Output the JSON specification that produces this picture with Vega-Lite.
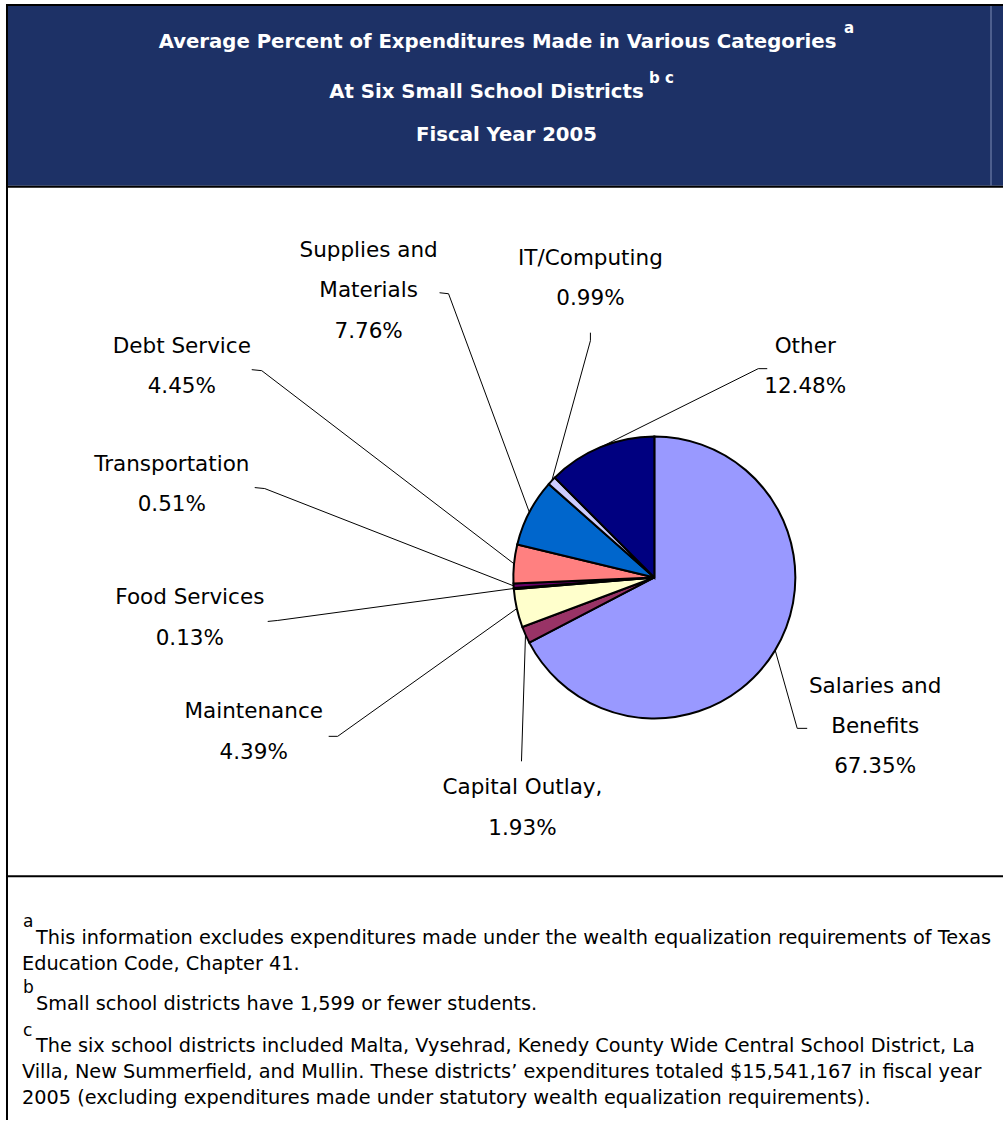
{
  "$schema": "https://vega.github.io/schema/vega-lite/v6.json",
  "width": 1004,
  "height": 1121,
  "autosize": {"type": "fit", "contains": "padding"},
  "padding": 0,
  "background": "white",
  "config": {"view": {"stroke": null}, "axis": {"disable": true}, "font": "DejaVu Sans"},
  "data": {"values": [{}]},
  "datasets": {
    "slices": [
      {"category": "Salaries and Benefits", "value": 67.35, "order": 1},
      {"category": "Capital Outlay", "value": 1.93, "order": 2},
      {"category": "Maintenance", "value": 4.39, "order": 3},
      {"category": "Food Services", "value": 0.13, "order": 4},
      {"category": "Transportation", "value": 0.51, "order": 5},
      {"category": "Debt Service", "value": 4.45, "order": 6},
      {"category": "Supplies and Materials", "value": 7.76, "order": 7},
      {"category": "IT/Computing", "value": 0.99, "order": 8},
      {"category": "Other", "value": 12.48, "order": 9}
    ]
  },
  "layer": [
    {"mark": {"type": "rect", "color": "#1D3166"},
     "encoding": {
       "x": {"datum": 8, "type": "quantitative", "scale": {"domain": [0, 1004], "nice": false, "zero": false}, "axis": null},
       "x2": {"datum": 1004},
       "y": {"datum": 6, "type": "quantitative", "scale": {"domain": [0, 1121], "nice": false, "zero": false, "reverse": true}, "axis": null},
       "y2": {"datum": 186}}},
    {"mark": {"type": "rule", "color": "#7F8DB5", "strokeWidth": 1},
     "encoding": {"x": {"datum": 992}, "y": {"datum": 6}, "y2": {"datum": 186}}},
    {"mark": {"type": "rule", "color": "black", "strokeWidth": 2},
     "encoding": {"x": {"datum": 6}, "x2": {"datum": 1004}, "y": {"datum": 5}}},
    {"mark": {"type": "rule", "color": "black", "strokeWidth": 2},
     "encoding": {"x": {"datum": 7}, "y": {"datum": 4}, "y2": {"datum": 1121}}},
    {"mark": {"type": "rule", "color": "black", "strokeWidth": 2},
     "encoding": {"x": {"datum": 6}, "x2": {"datum": 1004}, "y": {"datum": 187}}},
    {"mark": {"type": "rule", "color": "black", "strokeWidth": 2},
     "encoding": {"x": {"datum": 6}, "x2": {"datum": 1004}, "y": {"datum": 877}}},

    {"mark": {"type": "text", "text": "Average Percent of Expenditures Made in Various Categories", "align": "center", "baseline": "alphabetic", "fontSize": 19.7, "fontWeight": "bold", "color": "white"},
     "encoding": {"x": {"datum": 498}, "y": {"datum": 48}}},
    {"mark": {"type": "text", "text": "a", "align": "center", "baseline": "alphabetic", "fontSize": 15, "fontWeight": "bold", "color": "white"},
     "encoding": {"x": {"datum": 850}, "y": {"datum": 33}}},
    {"mark": {"type": "text", "text": "At Six Small School Districts", "align": "center", "baseline": "alphabetic", "fontSize": 19.7, "fontWeight": "bold", "color": "white"},
     "encoding": {"x": {"datum": 487}, "y": {"datum": 98}}},
    {"mark": {"type": "text", "text": "b c", "align": "center", "baseline": "alphabetic", "fontSize": 15, "fontWeight": "bold", "color": "white"},
     "encoding": {"x": {"datum": 662}, "y": {"datum": 83}}},
    {"mark": {"type": "text", "text": "Fiscal Year 2005", "align": "center", "baseline": "alphabetic", "fontSize": 19.7, "fontWeight": "bold", "color": "white"},
     "encoding": {"x": {"datum": 507}, "y": {"datum": 141}}},

    {"data": {"name": "slices"},
     "mark": {"type": "arc", "radius": 141, "stroke": "black", "strokeWidth": 2},
     "encoding": {
       "theta": {"field": "value", "type": "quantitative", "stack": true},
       "order": {"field": "order", "type": "quantitative"},
       "color": {"field": "category", "type": "nominal", "legend": null,
         "scale": {"domain": ["Salaries and Benefits", "Capital Outlay", "Maintenance", "Food Services", "Transportation", "Debt Service", "Supplies and Materials", "IT/Computing", "Other"],
                   "range": ["#9999FF", "#993366", "#FFFFCC", "#CCFFFF", "#660066", "#FF8080", "#0066CC", "#CCCCFF", "#000080"]}},
       "x": {"datum": 655},
       "y": {"datum": 578}}},

    {"mark": {"type": "rule", "color": "black", "strokeWidth": 1}, "encoding": {"x": {"datum": 808}, "y": {"datum": 729}, "x2": {"datum": 798}, "y2": {"datum": 729}}},
    {"mark": {"type": "rule", "color": "black", "strokeWidth": 1}, "encoding": {"x": {"datum": 798}, "y": {"datum": 729}, "x2": {"datum": 776}, "y2": {"datum": 651}}},
    {"mark": {"type": "rule", "color": "black", "strokeWidth": 1}, "encoding": {"x": {"datum": 522}, "y": {"datum": 762}, "x2": {"datum": 526}, "y2": {"datum": 636}}},
    {"mark": {"type": "rule", "color": "black", "strokeWidth": 1}, "encoding": {"x": {"datum": 329}, "y": {"datum": 737}, "x2": {"datum": 338}, "y2": {"datum": 737}}},
    {"mark": {"type": "rule", "color": "black", "strokeWidth": 1}, "encoding": {"x": {"datum": 338}, "y": {"datum": 737}, "x2": {"datum": 517.5}, "y2": {"datum": 609}}},
    {"mark": {"type": "rule", "color": "black", "strokeWidth": 1}, "encoding": {"x": {"datum": 268}, "y": {"datum": 622}, "x2": {"datum": 278}, "y2": {"datum": 621}}},
    {"mark": {"type": "rule", "color": "black", "strokeWidth": 1}, "encoding": {"x": {"datum": 278}, "y": {"datum": 621}, "x2": {"datum": 514.4}, "y2": {"datum": 589}}},
    {"mark": {"type": "rule", "color": "black", "strokeWidth": 1}, "encoding": {"x": {"datum": 255}, "y": {"datum": 488}, "x2": {"datum": 265}, "y2": {"datum": 489}}},
    {"mark": {"type": "rule", "color": "black", "strokeWidth": 1}, "encoding": {"x": {"datum": 265}, "y": {"datum": 489}, "x2": {"datum": 514.2}, "y2": {"datum": 586.4}}},
    {"mark": {"type": "rule", "color": "black", "strokeWidth": 1}, "encoding": {"x": {"datum": 252}, "y": {"datum": 370}, "x2": {"datum": 262}, "y2": {"datum": 371}}},
    {"mark": {"type": "rule", "color": "black", "strokeWidth": 1}, "encoding": {"x": {"datum": 262}, "y": {"datum": 371}, "x2": {"datum": 514.7}, "y2": {"datum": 564.4}}},
    {"mark": {"type": "rule", "color": "black", "strokeWidth": 1}, "encoding": {"x": {"datum": 440}, "y": {"datum": 293}, "x2": {"datum": 449}, "y2": {"datum": 294}}},
    {"mark": {"type": "rule", "color": "black", "strokeWidth": 1}, "encoding": {"x": {"datum": 449}, "y": {"datum": 294}, "x2": {"datum": 530}, "y2": {"datum": 513}}},
    {"mark": {"type": "rule", "color": "black", "strokeWidth": 1}, "encoding": {"x": {"datum": 591}, "y": {"datum": 333}, "x2": {"datum": 591}, "y2": {"datum": 341}}},
    {"mark": {"type": "rule", "color": "black", "strokeWidth": 1}, "encoding": {"x": {"datum": 591}, "y": {"datum": 341}, "x2": {"datum": 552.3}, "y2": {"datum": 481.4}}},
    {"mark": {"type": "rule", "color": "black", "strokeWidth": 1}, "encoding": {"x": {"datum": 768}, "y": {"datum": 369}, "x2": {"datum": 759}, "y2": {"datum": 369}}},
    {"mark": {"type": "rule", "color": "black", "strokeWidth": 1}, "encoding": {"x": {"datum": 759}, "y": {"datum": 369}, "x2": {"datum": 601}, "y2": {"datum": 447.7}}},

    {"mark": {"type": "text", "text": ["Supplies and", "Materials", "7.76%"], "align": "center", "baseline": "alphabetic", "fontSize": 21.5, "lineHeight": 40.5, "color": "black"},
     "encoding": {"x": {"datum": 369}, "y": {"datum": 257}}},
    {"mark": {"type": "text", "text": ["IT/Computing", "0.99%"], "align": "center", "baseline": "alphabetic", "fontSize": 21.5, "lineHeight": 40.5, "color": "black"},
     "encoding": {"x": {"datum": 591}, "y": {"datum": 265}}},
    {"mark": {"type": "text", "text": ["Debt Service", "4.45%"], "align": "center", "baseline": "alphabetic", "fontSize": 21.5, "lineHeight": 40.5, "color": "black"},
     "encoding": {"x": {"datum": 182}, "y": {"datum": 353}}},
    {"mark": {"type": "text", "text": ["Other", "12.48%"], "align": "center", "baseline": "alphabetic", "fontSize": 21.5, "lineHeight": 40.5, "color": "black"},
     "encoding": {"x": {"datum": 806}, "y": {"datum": 353}}},
    {"mark": {"type": "text", "text": ["Transportation", "0.51%"], "align": "center", "baseline": "alphabetic", "fontSize": 21.5, "lineHeight": 40.5, "color": "black"},
     "encoding": {"x": {"datum": 172}, "y": {"datum": 471}}},
    {"mark": {"type": "text", "text": ["Food Services", "0.13%"], "align": "center", "baseline": "alphabetic", "fontSize": 21.5, "lineHeight": 40.5, "color": "black"},
     "encoding": {"x": {"datum": 190}, "y": {"datum": 605}}},
    {"mark": {"type": "text", "text": ["Maintenance", "4.39%"], "align": "center", "baseline": "alphabetic", "fontSize": 21.5, "lineHeight": 40.5, "color": "black"},
     "encoding": {"x": {"datum": 254}, "y": {"datum": 719}}},
    {"mark": {"type": "text", "text": ["Capital Outlay,", "1.93%"], "align": "center", "baseline": "alphabetic", "fontSize": 21.5, "lineHeight": 40.5, "color": "black"},
     "encoding": {"x": {"datum": 523}, "y": {"datum": 795}}},
    {"mark": {"type": "text", "text": ["Salaries and", "Benefits", "67.35%"], "align": "center", "baseline": "alphabetic", "fontSize": 21.5, "lineHeight": 40, "color": "black"},
     "encoding": {"x": {"datum": 876}, "y": {"datum": 694}}},

    {"mark": {"type": "text", "text": "a", "align": "left", "baseline": "alphabetic", "fontSize": 17, "color": "black"},
     "encoding": {"x": {"datum": 23}, "y": {"datum": 928}}},
    {"mark": {"type": "text", "text": "This information excludes expenditures made under the wealth equalization requirements of Texas", "align": "left", "baseline": "alphabetic", "fontSize": 19.3, "color": "black"},
     "encoding": {"x": {"datum": 36}, "y": {"datum": 945}}},
    {"mark": {"type": "text", "text": "Education Code, Chapter 41.", "align": "left", "baseline": "alphabetic", "fontSize": 19.3, "color": "black"},
     "encoding": {"x": {"datum": 22}, "y": {"datum": 971}}},
    {"mark": {"type": "text", "text": "b", "align": "left", "baseline": "alphabetic", "fontSize": 17, "color": "black"},
     "encoding": {"x": {"datum": 23}, "y": {"datum": 994}}},
    {"mark": {"type": "text", "text": "Small school districts have 1,599 or fewer students.", "align": "left", "baseline": "alphabetic", "fontSize": 19.3, "color": "black"},
     "encoding": {"x": {"datum": 36}, "y": {"datum": 1011}}},
    {"mark": {"type": "text", "text": "c", "align": "left", "baseline": "alphabetic", "fontSize": 17, "color": "black"},
     "encoding": {"x": {"datum": 23}, "y": {"datum": 1037}}},
    {"mark": {"type": "text", "text": "The six school districts included Malta, Vysehrad, Kenedy County Wide Central School District, La", "align": "left", "baseline": "alphabetic", "fontSize": 19.3, "color": "black"},
     "encoding": {"x": {"datum": 36}, "y": {"datum": 1053}}},
    {"mark": {"type": "text", "text": "Villa, New Summerfield, and Mullin.  These districts’ expenditures totaled $15,541,167 in fiscal year", "align": "left", "baseline": "alphabetic", "fontSize": 19.3, "color": "black"},
     "encoding": {"x": {"datum": 22}, "y": {"datum": 1079}}},
    {"mark": {"type": "text", "text": "2005 (excluding expenditures made under statutory wealth equalization requirements).", "align": "left", "baseline": "alphabetic", "fontSize": 19.3, "color": "black"},
     "encoding": {"x": {"datum": 22}, "y": {"datum": 1105}}}
  ]
}
